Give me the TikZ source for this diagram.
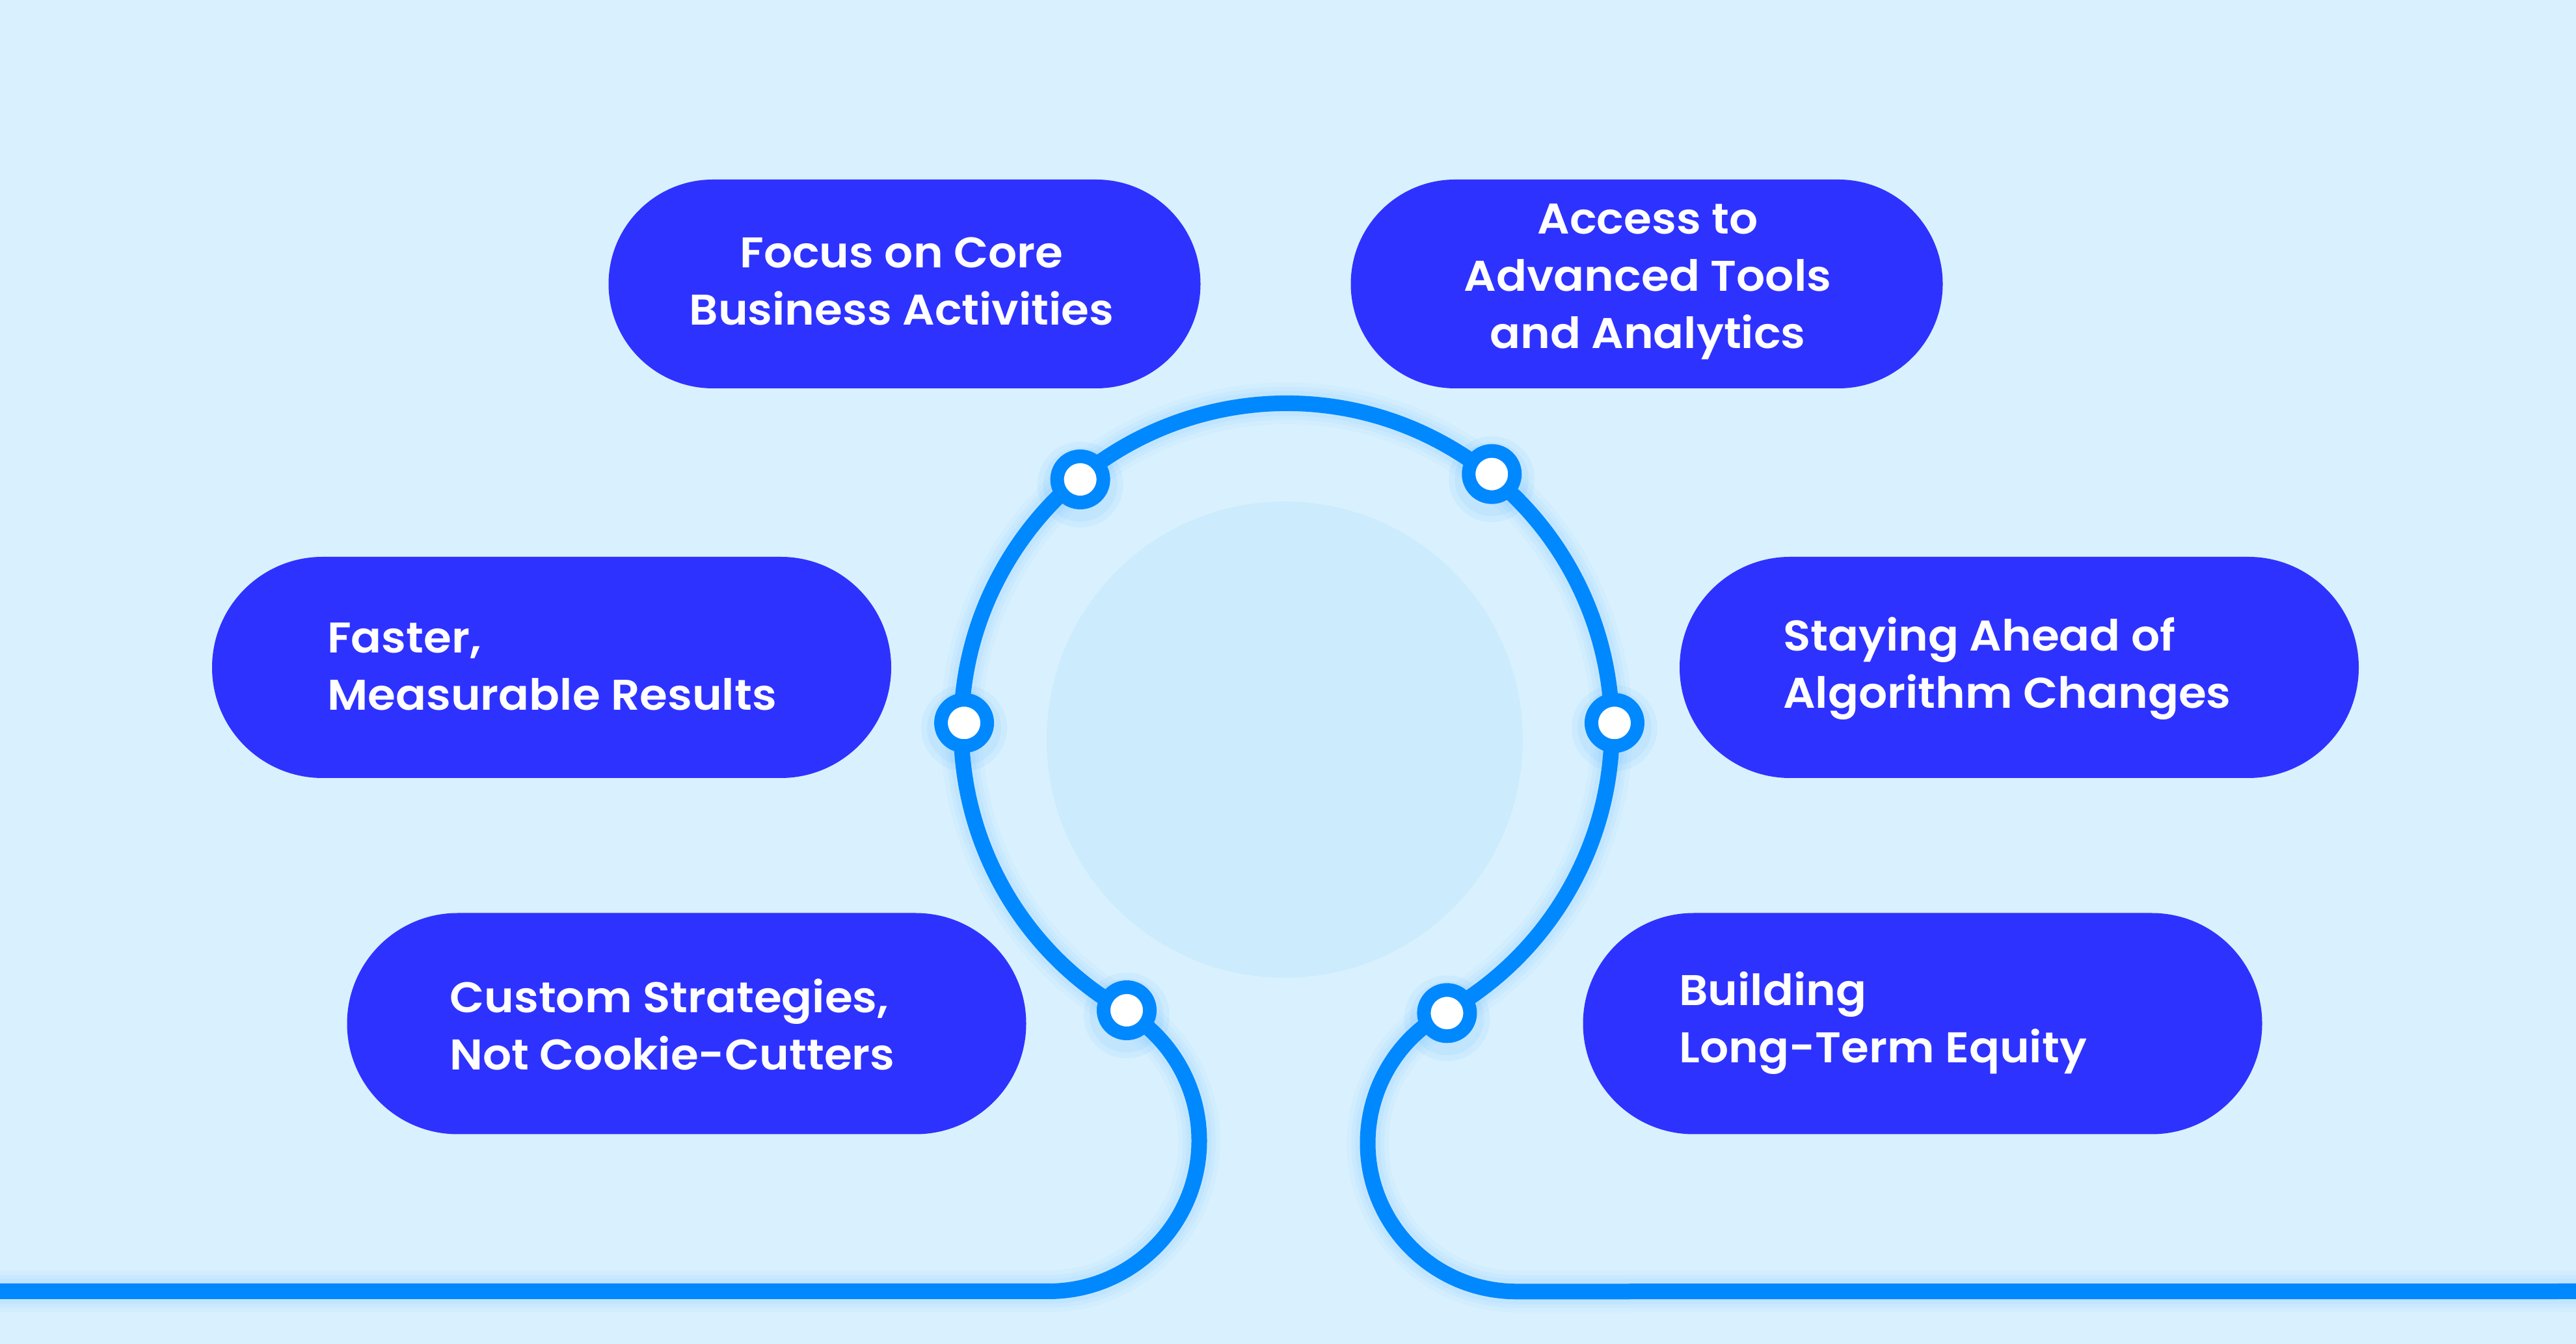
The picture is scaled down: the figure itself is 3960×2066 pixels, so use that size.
\documentclass[tikz,border=0pt]{standalone}
\usepackage{fontspec}
\newfontfamily\pillfont{Poppins SemiBold}[FakeStretch=1.05]
\usetikzlibrary{calc}
\definecolor{bg}{HTML}{D9F1FE}
\definecolor{innerc}{HTML}{CCEBFD}
\definecolor{ringc}{HTML}{0088FF}
\definecolor{pillc}{HTML}{2E32FF}
\begin{document}
\begin{tikzpicture}[x=1pt,y=1pt,
  pill/.style={fill=pillc, draw=none, inner sep=0pt, rectangle},
  pilltop/.style={pill, minimum width=910pt, minimum height=321pt, rounded corners=160.5pt},
  pillmid/.style={pill, minimum width=1044pt, minimum height=340pt, rounded corners=170pt},
  txt/.style={text=white, font=\pillfont\fontsize{66}{88}\selectfont, inner sep=0pt},
  dot/.style={circle, draw=ringc, line width=21pt, fill=white, minimum size=71pt, inner sep=0pt},
  ring/.style={draw=ringc, line width=24pt},
  glow/.style={draw=ringc, line width=#1, opacity=0.035},
]
\useasboundingbox (0,0) rectangle (3960,2066);
\fill[bg] (0,0) rectangle (3960,2066);

\coordinate (M) at (1982,946);
\coordinate (lineL) at (0,81);
\coordinate (lineR) at (3960,81);
\coordinate (sL) at (1612,81);
\def\routepath{(lineL) -- (sL) arc[start angle=-90,end angle=60,radius=231.5]
  arc[start angle=240,end angle=-61,radius=500]
  arc[start angle=119,end angle=270,radius=228.3] -- (lineR)}

% central disc
\node[circle, fill=innerc, minimum size=732pt, inner sep=0pt] (core) at (1975,929) {};

% glow under the route
\begin{scope}[yshift=-10pt]
\draw[glow=64pt] \routepath;
\draw[glow=50pt] \routepath;
\draw[glow=38pt] \routepath;
\end{scope}

% pills
\node[pilltop] (p1) at (1390.5,1629.5) {};
\node[pilltop] (p2) at (2531.5,1629.5) {};
\node[pillmid] (p3) at (848,1040) {};
\node[pillmid] (p4) at (3104,1040) {};
\node[pillmid] (p5) at (1055.5,492.5) {};
\node[pillmid] (p6) at (2955.5,492.5) {};

\node[txt, align=center] (t1) at (1386,1634) {Focus on Core\\Business Activities};
\node[txt, align=center] (t2) at (2533,1632.5) {Access to\\Advanced Tools\\and Analytics};
\node[txt, align=left, anchor=west] (t3) at (503,1041.5) {Faster,\\Measurable Results};
\node[txt, align=left, anchor=west] (t4) at (2741,1038) {Staying Ahead of\\Algorithm Changes};
\node[txt, align=left, anchor=west] (t5) at (691,491.5) {Custom Strategies,\\Not Cookie-Cutters};
\node[txt, align=left, anchor=west] (t6) at (2581,493.5) {Building\\Long-Term Equity};

% route
\draw[ring] \routepath;

% dots
\foreach \n/\a in {d1/130, d2/51.5, d3/179, d4/1, d5/240, d6/299}{
  \coordinate (\n c) at ($(M)+(\a:500)$);
  \fill[ringc, opacity=0.05] ($(\n c)+(0,-8)$) circle[radius=66];
  \fill[ringc, opacity=0.05] ($(\n c)+(0,-8)$) circle[radius=57];
  \node[dot] (\n) at (\n c) {};
}
\end{tikzpicture}
\end{document}
